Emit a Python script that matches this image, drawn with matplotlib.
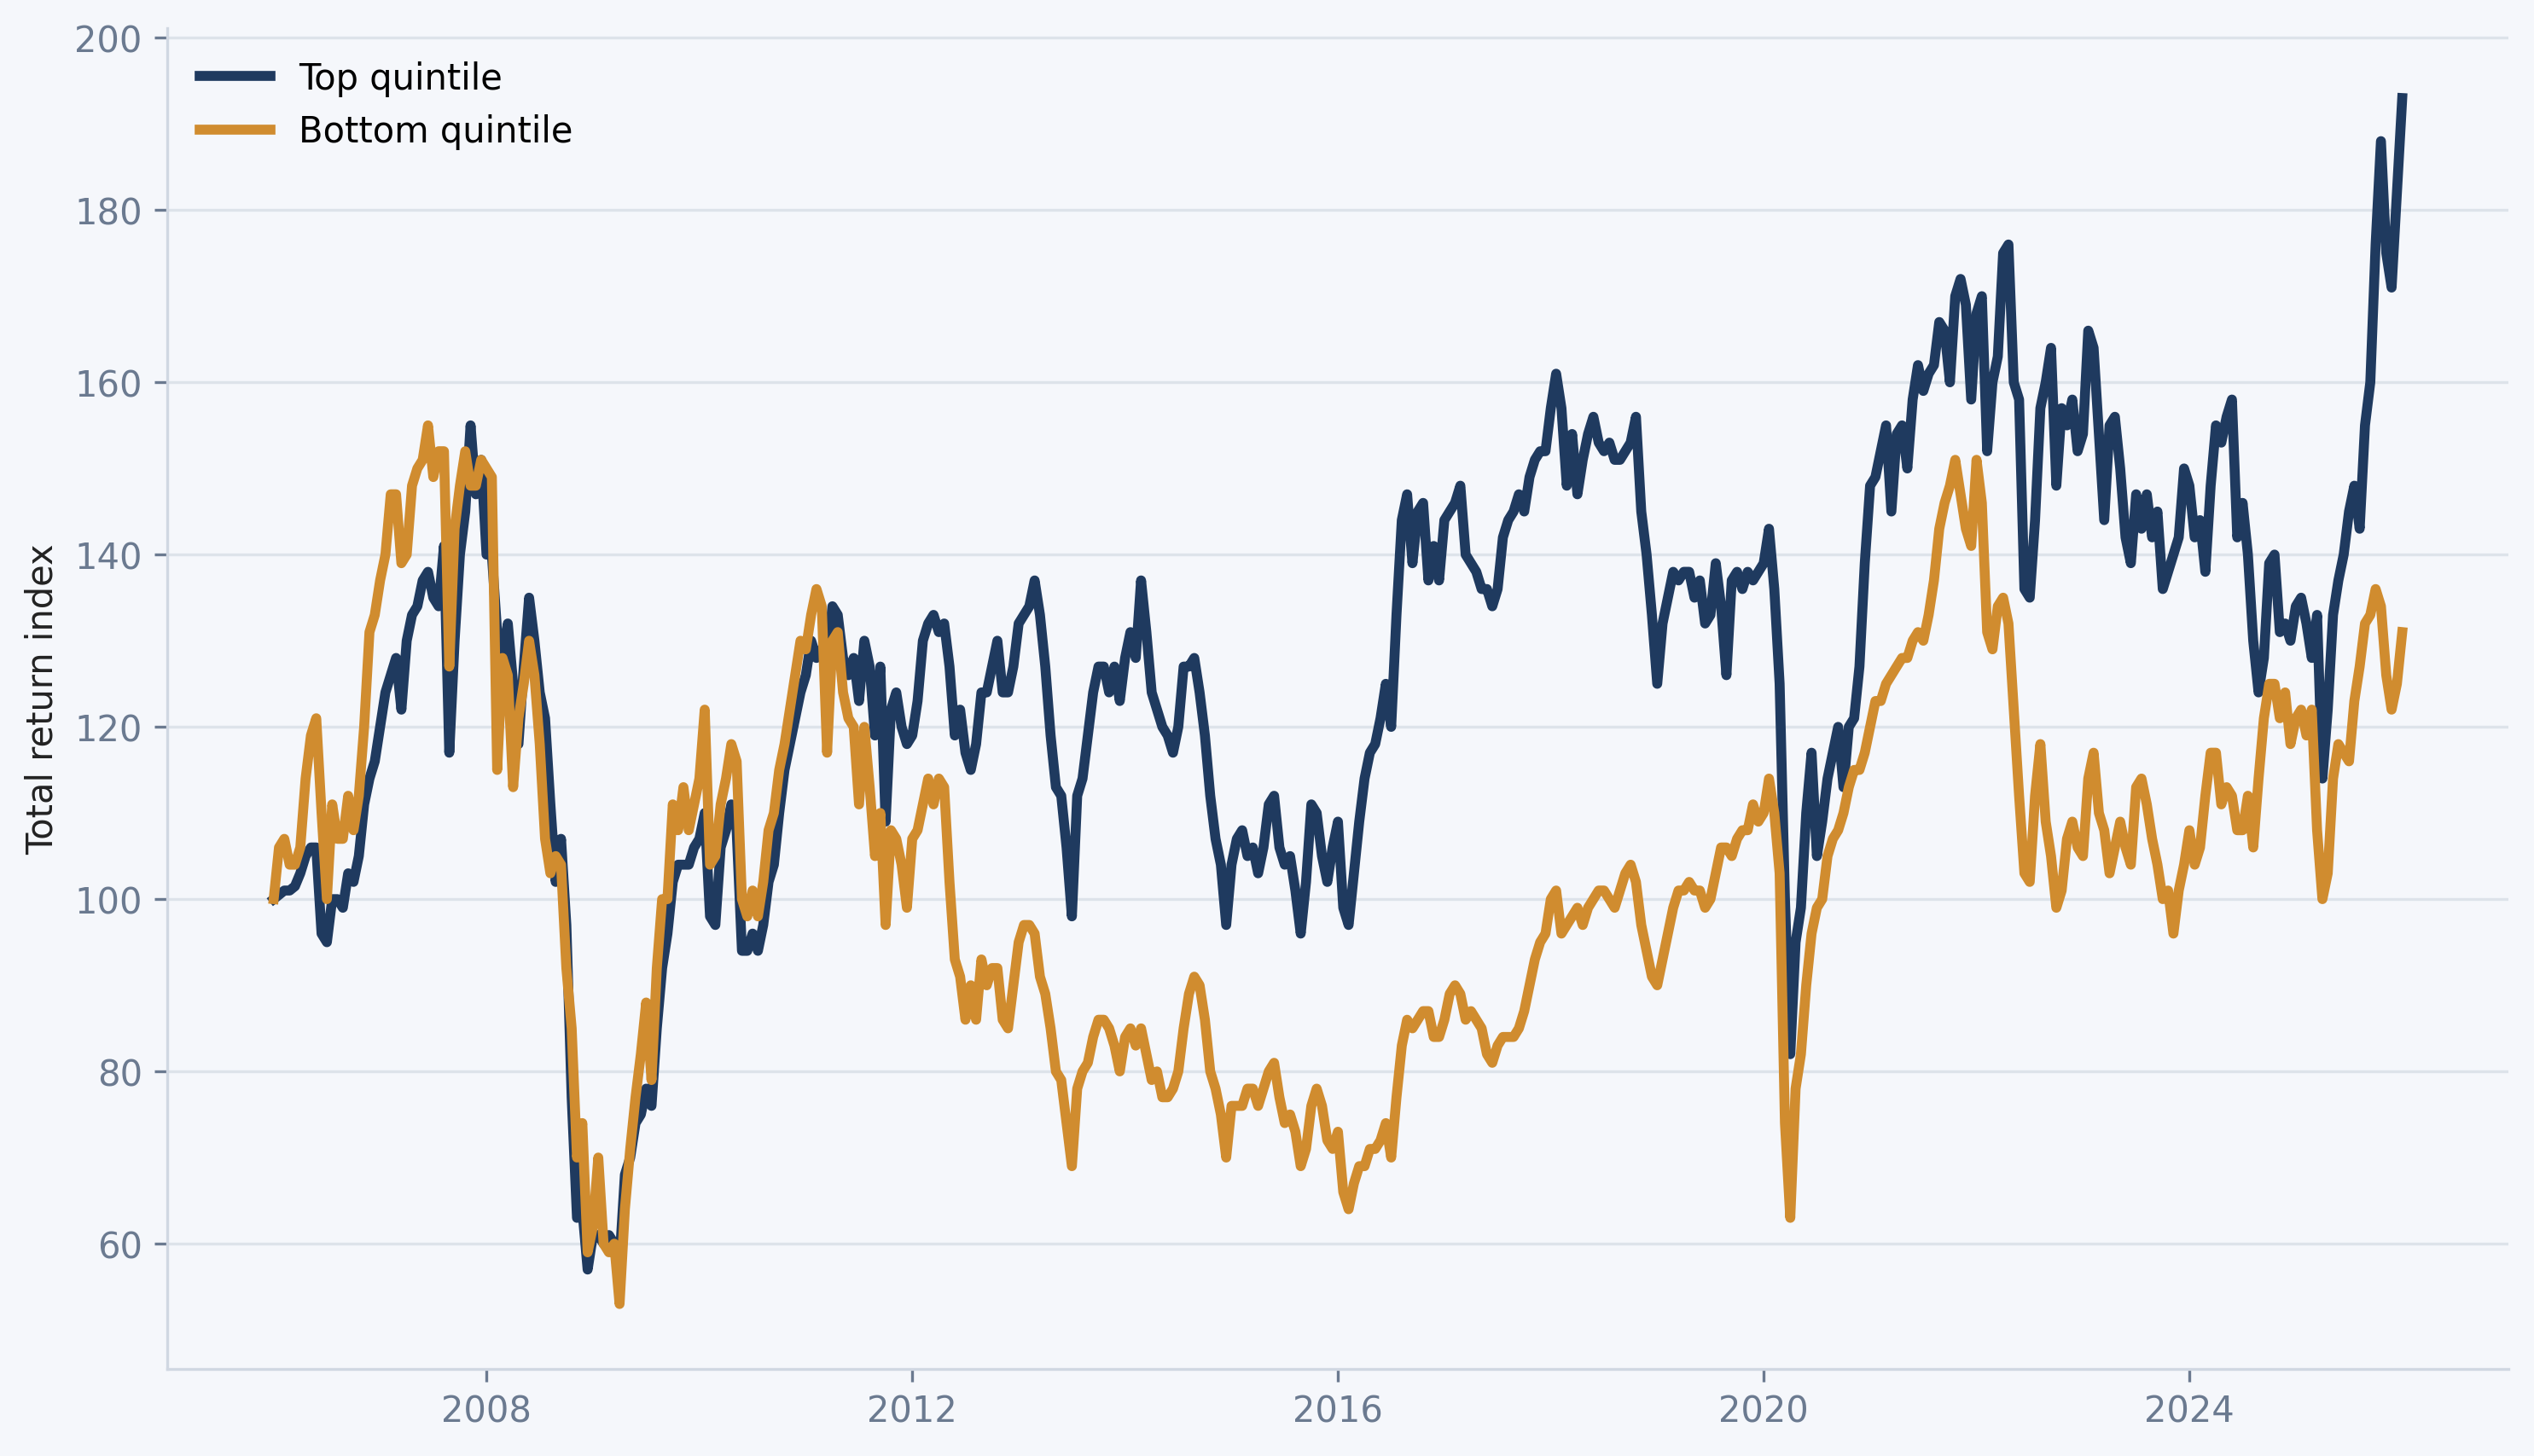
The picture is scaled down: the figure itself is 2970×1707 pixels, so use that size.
import matplotlib
matplotlib.use("Agg")
import matplotlib.pyplot as plt
import matplotlib.dates as mdates
import pandas as pd

# readings every 0.05 year (one row = one calendar year), Jan 2006 -> Jan 2026
top_quintile = [
    100, 100.5, 101, 101, 101.5, 103, 105, 106, 106, 96, 95, 100, 100, 99, 103, 102, 105, 111, 114, 116,
    120, 124, 126, 128, 122, 130, 133, 134, 137, 138, 135, 134, 141, 117, 130, 140, 145, 155, 147, 151,
    140, 140, 131, 128, 132, 125, 118, 127, 135, 130, 124, 121, 111, 102, 107, 97, 77, 63, 64, 57,
    61, 61, 60, 61, 60, 58, 68, 70, 74, 75, 78, 76, 85, 92, 96, 102, 104, 104, 104, 106,
    107, 110, 98, 97, 106, 108, 111, 108, 94, 94, 96, 94, 97, 102, 104, 110, 115, 118, 121, 124,
    126, 130, 128, 129, 128, 134, 133, 128, 126, 128, 123, 130, 127, 119, 127, 109, 122, 124, 120, 118,
    119, 123, 130, 132, 133, 131, 132, 127, 119, 122, 117, 115, 118, 124, 124, 127, 130, 124, 124, 127,
    132, 133, 134, 137, 133, 127, 119, 113, 112, 106, 98, 112, 114, 119, 124, 127, 127, 124, 127, 123,
    128, 131, 128, 137, 131, 124, 122, 120, 119, 117, 120, 127, 127, 128, 124, 119, 112, 107, 104, 97,
    104, 107, 108, 105, 106, 103, 106, 111, 112, 106, 104, 105, 101, 96, 102, 111, 110, 105, 102, 106,
    109, 99, 97, 103, 109, 114, 117, 118, 121, 125, 120, 133, 144, 147, 139, 145, 146, 137, 141, 137,
    144, 145, 146, 148, 140, 139, 138, 136, 136, 134, 136, 142, 144, 145, 147, 145, 149, 151, 152, 152,
    157, 161, 157, 148, 154, 147, 151, 154, 156, 153, 152, 153, 151, 151, 152, 153, 156, 145, 140, 133,
    125, 132, 135, 138, 137, 138, 138, 135, 137, 132, 133, 139, 134, 126, 137, 138, 136, 138, 137, 138,
    139, 143, 136, 125, 100, 82, 95, 99, 110, 117, 105, 109, 114, 117, 120, 113, 120, 121, 127, 139,
    148, 149, 152, 155, 145, 154, 155, 150, 158, 162, 159, 161, 162, 167, 166, 160, 170, 172, 169, 158,
    168, 170, 152, 160, 163, 175, 176, 160, 158, 136, 135, 144, 157, 160, 164, 148, 157, 155, 158, 152,
    154, 166, 164, 154, 144, 155, 156, 150, 142, 139, 147, 143, 147, 142, 145, 136, 138, 140, 142, 150,
    148, 142, 144, 138, 148, 155, 153, 156, 158, 142, 146, 140, 130, 124, 128, 139, 140, 131, 132, 130,
    134, 135, 132, 128, 133, 114, 122, 133, 137, 140, 145, 148, 143, 155, 160, 176, 188, 175, 171, 182,
    193,
]

bottom_quintile = [
    100, 106, 107, 104, 104, 106, 114, 119, 121, 110, 100, 111, 107, 107, 112, 108, 112, 120, 131, 133,
    137, 140, 147, 147, 139, 140, 148, 150, 151, 155, 149, 152, 152, 127, 143, 148, 152, 148, 148, 151,
    150, 149, 115, 128, 126, 113, 121, 125, 130, 126, 118, 107, 103, 105, 104, 92, 85, 70, 74, 59,
    62, 70, 60, 59, 60, 53, 64, 71, 77, 82, 88, 79, 92, 100, 100, 111, 108, 113, 108, 111,
    114, 122, 104, 105, 111, 114, 118, 116, 100, 98, 101, 98, 102, 108, 110, 115, 118, 122, 126, 130,
    129, 133, 136, 134, 117, 130, 131, 124, 121, 120, 111, 120, 113, 105, 110, 97, 108, 107, 104, 99,
    107, 108, 111, 114, 111, 114, 113, 102, 93, 91, 86, 90, 86, 93, 90, 92, 92, 86, 85, 90,
    95, 97, 97, 96, 91, 89, 85, 80, 79, 74, 69, 78, 80, 81, 84, 86, 86, 85, 83, 80,
    84, 85, 83, 85, 82, 79, 80, 77, 77, 78, 80, 85, 89, 91, 90, 86, 80, 78, 75, 70,
    76, 76, 76, 78, 78, 76, 78, 80, 81, 77, 74, 75, 73, 69, 71, 76, 78, 76, 72, 71,
    73, 66, 64, 67, 69, 69, 71, 71, 72, 74, 70, 77, 83, 86, 85, 86, 87, 87, 84, 84,
    86, 89, 90, 89, 86, 87, 86, 85, 82, 81, 83, 84, 84, 84, 85, 87, 90, 93, 95, 96,
    100, 101, 96, 97, 98, 99, 97, 99, 100, 101, 101, 100, 99, 101, 103, 104, 102, 97, 94, 91,
    90, 93, 96, 99, 101, 101, 102, 101, 101, 99, 100, 103, 106, 106, 105, 107, 108, 108, 111, 109,
    110, 114, 110, 103, 74, 63, 78, 82, 90, 96, 99, 100, 105, 107, 108, 110, 113, 115, 115, 117,
    120, 123, 123, 125, 126, 127, 128, 128, 130, 131, 130, 133, 137, 143, 146, 148, 151, 147, 143, 141,
    151, 146, 131, 129, 134, 135, 132, 122, 112, 103, 102, 112, 118, 109, 105, 99, 101, 107, 109, 106,
    105, 114, 117, 110, 108, 103, 106, 109, 106, 104, 113, 114, 111, 107, 104, 100, 101, 96, 101, 104,
    108, 104, 106, 112, 117, 117, 111, 113, 112, 108, 108, 112, 106, 114, 121, 125, 125, 121, 124, 118,
    121, 122, 119, 122, 108, 100, 103, 114, 118, 117, 116, 123, 127, 132, 133, 136, 134, 126, 122, 125,
    131,
]

dates = pd.date_range("2006-01-01", "2026-01-01", periods=len(top_quintile))

bg = "#f5f7fb"
grid_c = "#dde3ea"
spine_c = "#d0d7e2"
tick_c = "#6b7a90"

fig = plt.figure(figsize=(9.9, 5.6933), dpi=300, facecolor=bg)
ax = fig.add_subplot(111)
ax.set_facecolor(bg)
fig.subplots_adjust(left=0.066, right=0.99, bottom=0.06, top=0.98)

ax.plot(dates, top_quintile, color="#1f3a5f", lw=2.8, label="Top quintile")
ax.plot(dates, bottom_quintile, color="#d08c2f", lw=2.8, label="Bottom quintile")

ax.set_ylim(45.5, 201.1)
ax.xaxis.set_major_locator(mdates.YearLocator(4))
ax.xaxis.set_major_formatter(mdates.DateFormatter("%Y"))

ax.grid(axis="y", color=grid_c, lw=0.8)
ax.set_axisbelow(True)
for s in ["top", "right"]:
    ax.spines[s].set_visible(False)
for s in ["left", "bottom"]:
    ax.spines[s].set_color(spine_c)
    ax.spines[s].set_linewidth(0.8)
ax.tick_params(colors=tick_c, labelsize=10, length=3.5, width=0.8)

ax.set_ylabel("Total return index", fontsize=10, color="#222222")
ax.legend(loc="upper left", frameon=False, fontsize=10)

fig.savefig("out.png", dpi=300, facecolor=bg)
